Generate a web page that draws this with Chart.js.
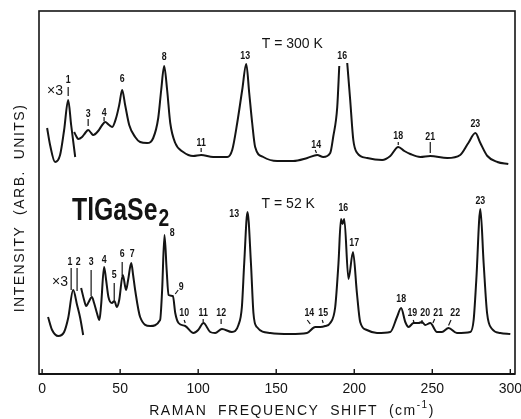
<!DOCTYPE html>
<html>
<head>
<meta charset="utf-8">
<script src="https://cdn.jsdelivr.net/npm/chart.js@4.4.1/dist/chart.umd.min.js"></script>
<style>
  html, body { margin: 0; padding: 0; background: #fff; }
  #wrap { width: 521px; height: 419px; }
</style>
</head>
<body>
<div id="wrap"><canvas id="c-raman"></canvas></div>
<script>
// T = 300 K, low-frequency part drawn x3
const warmX3Shift = [3.2, 5.1, 8.3, 11.5, 14.1, 16.7, 18.6, 21.2];
const warmX3Level = [246, 229, 212, 219, 244, 274, 249, 217];

// T = 300 K, main trace (null = pen off the top of the chart)
const warmShift = [20.5, 21.8, 23.1, 25.6, 27.6, 29.5, 31.4, 32.7, 35.9, 38.5, 40.4, 42.9, 44.9, 47.4, 49.4, 51.3, 53.2, 55.8, 59.6, 62.8, 67.3, 71.2, 74.4, 76.3, 78.2, 80.1, 82.1, 85.3, 90.4, 96.8, 101.9, 109.6, 118.6, 121.8, 125.0, 128.2, 130.8, 132.7, 134.6, 136.5, 141.7, 150.6, 160.9, 169.9, 176.3, 180.1, 184.6, 186.5, 189.1, 190.4, 193.0, 195.5, 197.4, 199.4, 201.9, 208.3, 217.9, 223.1, 228.2, 232.1, 235.9, 242.3, 248.7, 259.6, 267.9, 273.1, 277.6, 280.8, 285.3, 291.7, 298.7];
const warmLevel = [242, 238, 235, 237, 241, 244, 241, 239, 243, 249, 252, 249, 247, 256, 269, 284, 269, 249, 237, 232, 231, 236, 256, 284, 308, 284, 251, 231, 222, 218, 219, 217, 217, 224, 251, 284, 310, 281, 251, 227, 217, 213, 213, 216, 219, 217, 221, 237, 267, 308, null, 311, 274, 234, 221, 216, 214, 218, 227, 223, 220, 217, 218, 216, 219, 231, 241, 231, 218, 212, 210];

// T = 52 K, low-frequency part drawn x3
const coldX3Shift = [3.8, 6.4, 10.3, 14.1, 16.7, 19.9, 22.4, 24.4, 26.3];
const coldX3Level = [57, 44, 38, 42, 56, 84, 69, 56, 39];

// T = 52 K, main trace
const coldShift = [25.0, 26.9, 28.2, 29.5, 31.9, 33.3, 35.1, 36.7, 37.8, 39.7, 41.0, 42.5, 44.7, 46.3, 47.9, 49.4, 51.7, 53.8, 55.1, 57.1, 58.3, 59.6, 62.8, 69.2, 75.6, 76.9, 78.4, 79.8, 81.0, 83.8, 85.3, 87.4, 91.7, 97.0, 100.0, 103.4, 107.7, 110.9, 115.2, 121.6, 125.8, 128.0, 129.5, 131.6, 133.8, 135.4, 137.6, 146.2, 159.0, 169.7, 175.0, 178.2, 181.4, 184.6, 187.8, 189.9, 191.5, 192.5, 193.6, 196.3, 199.2, 201.7, 203.8, 208.1, 214.6, 223.1, 227.4, 230.0, 232.7, 234.8, 238.0, 241.2, 243.4, 245.5, 248.7, 253.0, 256.2, 260.4, 265.8, 274.4, 276.5, 278.2, 280.8, 282.9, 285.1, 288.3, 293.6, 300.0];
const coldLevel = [86, 74, 68, 71, 77, 71, 61, 54, 69, 107, 94, 77, 71, 73, 67, 74, 99, 84, 94, 111, 99, 84, 57, 48, 54, 84, 139, 104, 79, 78, 61, 51, 48, 41, 44, 51, 42, 41, 45, 42, 49, 67, 111, 162, 111, 61, 47, 41, 40, 41, 47, 47, 48, 51, 67, 111, 155, 150, 155, 95, 122, 81, 52, 44, 41, 42, 57, 66, 52, 47, 51, 51, 52, 49, 51, 42, 42, 46, 41, 42, 54, 94, 165, 111, 61, 45, 41, 40];

const tickValues = [0, 50, 100, 150, 200, 250, 300];

// peak numbers: [text, shift, level]
const warmPeaks = [["1", 16.7, 294], ["3", 29.5, 260], ["4", 39.7, 261], ["6", 51.3, 295], ["8", 78.2, 317], ["11", 101.9, 231], ["13", 130.1, 318], ["14", 175.6, 229], ["16", 192.3, 318], ["18", 228.2, 238], ["21", 248.7, 237], ["23", 277.6, 250]];
const coldPeaks = [["1", 17.9, 112], ["2", 23.1, 112], ["3", 31.4, 112], ["4", 39.7, 114], ["5", 46.2, 99], ["6", 51.3, 120], ["7", 57.7, 120], ["8", 83.3, 141], ["9", 89.1, 87], ["10", 91.0, 61], ["11", 103.2, 61], ["12", 114.7, 61], ["13", 123.1, 160], ["14", 171.2, 61], ["15", 180.1, 61], ["16", 193.0, 166], ["17", 200.0, 131], ["18", 230.1, 75], ["19", 237.2, 61], ["20", 245.5, 61], ["21", 253.8, 61], ["22", 264.7, 61], ["23", 280.8, 173]];

// marker strokes under the numbers: [shift1, level1, shift2, level2]
const peakMarks = [
  [16.7, 287, 16.7, 278], [29.5, 255, 29.5, 248], [39.7, 257, 39.7, 253], [101.9, 226, 101.9, 222],
  [175.0, 224, 175.8, 221], [228.2, 232, 228.2, 229], [248.7, 232, 248.7, 221],
  [18.6, 106, 18.6, 84], [22.4, 106, 22.4, 83], [31.4, 104, 31.4, 78], [46.2, 91, 46.2, 74],
  [51.3, 112, 51.3, 98], [87.2, 84, 85.3, 80], [91.0, 54, 91.7, 51], [103.2, 55, 103.2, 52],
  [114.7, 55, 114.7, 50], [169.9, 54, 171.8, 50], [179.5, 54, 180.1, 51], [237.8, 54, 238.4, 51],
  [243.4, 54, 243.4, 50], [251.5, 55, 250.4, 51], [262.0, 54, 260.4, 48.5]
];

const scaleTags = [["×3", 8.3, 283], ["×3", 11.5, 92]];
const tempTags = [["T = 300 K", 160.3, 330], ["T = 52 K", 157.7, 170]];

function toPoints(xs, ys) {
  return xs.map((x, i) => ({ x, y: ys[i] }));
}

function trace(xs, ys) {
  return {
    data: toPoints(xs, ys),
    borderColor: "#141414",
    borderWidth: 2,
    pointRadius: 0,
    fill: false,
    spanGaps: false,
    cubicInterpolationMode: "monotone"
  };
}

function narrowText(ctx, text, px, py, squeeze) {
  ctx.save();
  ctx.translate(px, py);
  ctx.scale(squeeze, 1);
  ctx.fillText(text, 0, 0);
  ctx.restore();
}

const decor = {
  id: "decor",
  afterDatasetsDraw(chart) {
    const { ctx, chartArea: a, scales: { x, y } } = chart;
    ctx.save();
    ctx.strokeStyle = "#141414";
    ctx.fillStyle = "#141414";

    // frame
    ctx.lineWidth = 1.6;
    ctx.strokeRect(a.left, a.top, a.right - a.left, a.bottom - a.top);
    ctx.lineWidth = 2.2;
    ctx.beginPath();
    ctx.moveTo(a.left, a.bottom);
    ctx.lineTo(a.right, a.bottom);
    ctx.stroke();

    // inward ticks + labels
    ctx.lineWidth = 1.4;
    ctx.font = "14px 'Liberation Sans', Arial, sans-serif";
    ctx.textAlign = "center";
    ctx.textBaseline = "middle";
    tickValues.forEach((v) => {
      const px = x.getPixelForValue(v);
      ctx.beginPath();
      ctx.moveTo(px, a.bottom);
      ctx.lineTo(px, a.bottom - 5);
      ctx.stroke();
      ctx.fillText(String(v), px, a.bottom + 15);
    });

    // peak numbers
    ctx.font = "bold 11px 'Liberation Sans', Arial, sans-serif";
    warmPeaks.concat(coldPeaks).forEach(([t, sx, lv]) => {
      narrowText(ctx, t, x.getPixelForValue(sx), y.getPixelForValue(lv), 0.8);
    });
    ctx.lineWidth = 1.2;
    peakMarks.forEach(([x1, y1, x2, y2]) => {
      ctx.beginPath();
      ctx.moveTo(x.getPixelForValue(x1), y.getPixelForValue(y1));
      ctx.lineTo(x.getPixelForValue(x2), y.getPixelForValue(y2));
      ctx.stroke();
    });

    ctx.font = "14px 'Liberation Sans', Arial, sans-serif";
    scaleTags.forEach(([t, sx, lv]) => ctx.fillText(t, x.getPixelForValue(sx), y.getPixelForValue(lv)));
    tempTags.forEach(([t, sx, lv]) => ctx.fillText(t, x.getPixelForValue(sx), y.getPixelForValue(lv)));

    // compound name
    ctx.textAlign = "left";
    ctx.textBaseline = "alphabetic";
    ctx.font = "bold 31px 'Liberation Sans', Arial, sans-serif";
    const nx = 72, ny = 220, sq = 0.8;
    narrowText(ctx, "TlGaSe", nx, ny, sq);
    const w = ctx.measureText("TlGaSe").width * sq;
    ctx.font = "bold 24px 'Liberation Sans', Arial, sans-serif";
    narrowText(ctx, "2", nx + w + 1, ny + 6, sq);

    // axis titles
    ctx.font = "14px 'Liberation Sans', Arial, sans-serif";
    ctx.letterSpacing = "1.5px";
    const parts = ["RAMAN  FREQUENCY  SHIFT  (cm", "-1", ")"];
    const w0 = ctx.measureText(parts[0]).width;
    ctx.font = "10px 'Liberation Sans', Arial, sans-serif";
    const w1 = ctx.measureText(parts[1]).width;
    ctx.font = "14px 'Liberation Sans', Arial, sans-serif";
    const w2 = ctx.measureText(parts[2]).width;
    let tx = 292 - (w0 + w1 + w2) / 2;
    ctx.fillText(parts[0], tx, 415);
    tx += w0;
    ctx.font = "10px 'Liberation Sans', Arial, sans-serif";
    ctx.fillText(parts[1], tx, 408);
    tx += w1;
    ctx.font = "14px 'Liberation Sans', Arial, sans-serif";
    ctx.fillText(parts[2], tx, 415);

    ctx.translate(20, 208);
    ctx.rotate(-Math.PI / 2);
    ctx.textAlign = "center";
    ctx.textBaseline = "middle";
    ctx.fillText("INTENSITY  (ARB.  UNITS)", 0, 0);
    ctx.restore();
  }
};

new Chart(document.getElementById("c-raman"), {
  type: "line",
  data: {
    datasets: [
      trace(warmX3Shift, warmX3Level),
      trace(warmShift, warmLevel),
      trace(coldX3Shift, coldX3Level),
      trace(coldShift, coldLevel)
    ]
  },
  options: {
    responsive: true,
    maintainAspectRatio: false,
    animation: false,
    layout: { padding: { left: 39, right: 6, top: 11, bottom: 45 } },
    plugins: { legend: { display: false }, tooltip: { enabled: false } },
    scales: {
      x: { type: "linear", min: -2, max: 303, display: false },
      y: { type: "linear", min: 0, max: 363, display: false }
    }
  },
  plugins: [decor]
});
</script>
</body>
</html>
